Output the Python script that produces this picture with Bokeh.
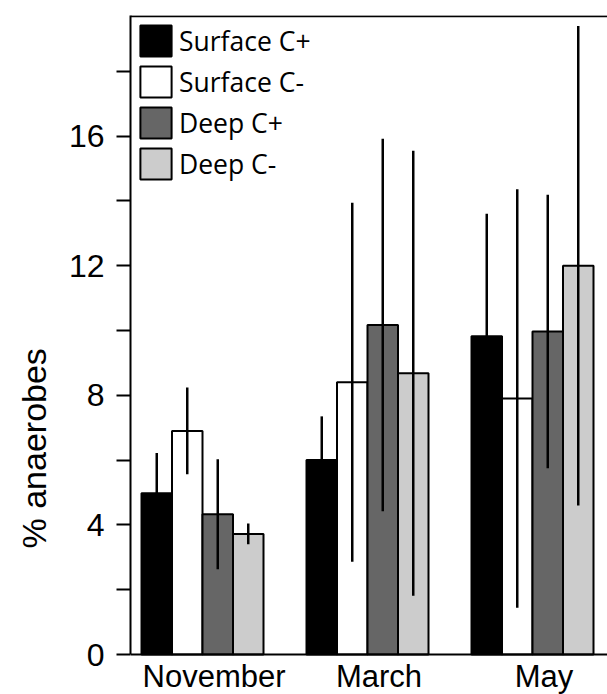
import numpy as np
from bokeh.plotting import figure
from bokeh.models import Range1d, FixedTicker, Span, Legend, LegendItem, Title, ColumnDataSource
from bokeh.core.properties import value
from bokeh.embed import file_html
from bokeh.resources import INLINE

months = ["November", "March", "May"]
series = ["Surface C+", "Surface C-", "Deep C+", "Deep C-"]
colors = ["#000000", "#ffffff", "#666666", "#cccccc"]

surface_cp = [4.98, 6.0, 9.82]
surface_cm = [6.9, 8.4, 7.9]
deep_cp = [4.33, 10.17, 9.97]
deep_cm = [3.72, 8.68, 12.0]

surface_cp_err = [1.24, 1.35, 3.78]
surface_cm_err = [1.34, 5.54, 6.46]
deep_cp_err = [1.7, 5.75, 4.22]
deep_cm_err = [0.32, 6.87, 7.4]

major_ticks = [0, 4, 8, 12, 16]
minor_ticks = [2, 6, 10, 14, 18]

values = [surface_cp, surface_cm, deep_cp, deep_cm]
errors = [surface_cp_err, surface_cm_err, deep_cp_err, deep_cm_err]

px_per_x = 165.0
px_per_y = 32.4
bar_w = 30.5 / px_per_x
y_top = 639 / px_per_y
y_bot = -40 / px_per_y

p = figure(width=607, height=694, output_backend="svg", toolbar_location=None,
           x_range=Range1d(-72 / px_per_x, 405 / px_per_x),
           y_range=Range1d(y_bot, y_top),
           min_border_left=130, min_border_right=0, min_border_top=15, min_border_bottom=0)
p.outline_line_color = None
p.xgrid.visible = False
p.ygrid.visible = False
p.xaxis.visible = False
p.background_fill_color = "white"

groups = np.arange(len(months))
items = []
for i, (vals, errs, col, name) in enumerate(zip(values, errors, colors, series)):
    xs = groups + (i - 1.5) * bar_w
    src = ColumnDataSource(dict(x=xs, top=vals,
                                lo=np.array(vals) - np.array(errs),
                                hi=np.array(vals) + np.array(errs)))
    r = p.vbar(x="x", top="top", bottom=0, width=bar_w, source=src,
               fill_color=col, line_color="black", line_width=2)
    items.append(LegendItem(label=name, renderers=[r]))
    p.segment(x0="x", x1="x", y0="lo", y1="hi", source=src, line_color="black", line_width=2.5)

# month labels
p.text(x=groups + 0.07, y=[-4 / px_per_y] * 3, text=months, text_align="center",
       text_baseline="top", text_font=value("Liberation Sans"),
       text_font_size="31px", text_color="black")

# bottom and top lines
p.add_layout(Span(location=0, dimension="width", line_color="black", line_width=2))
p.add_layout(Span(location=y_top - 0.02, dimension="width", line_color="black", line_width=2))

ya = p.yaxis[0]
ya.ticker = FixedTicker(ticks=major_ticks, minor_ticks=minor_ticks)
ya.bounds = (0, y_top)
ya.axis_line_width = 2
ya.axis_line_color = "black"
ya.major_tick_line_width = 2
ya.minor_tick_line_width = 2
ya.major_tick_out = 14
ya.major_tick_in = 0
ya.minor_tick_out = 14
ya.minor_tick_in = 0
ya.major_label_standoff = 12
ya.major_label_text_font = "Liberation Sans"
ya.major_label_text_font_size = "32px"
ya.major_label_text_color = "black"

ytitle = Title(text="% anaerobes", align="left", offset=146, standoff=25,
               text_font="Liberation Sans", text_font_size="34px",
               text_font_style="normal", text_color="black")
p.add_layout(ytitle, "left")

legend = Legend(items=items, location="top_left", margin=6, padding=0, spacing=2,
                glyph_width=39, glyph_height=39, label_height=39, label_standoff=4,
                label_text_font="Open Sans", label_text_font_size="26.5px",
                label_text_color="black", border_line_alpha=0, background_fill_alpha=0)
p.add_layout(legend)

open("out.html", "w").write(file_html(p, INLINE))
